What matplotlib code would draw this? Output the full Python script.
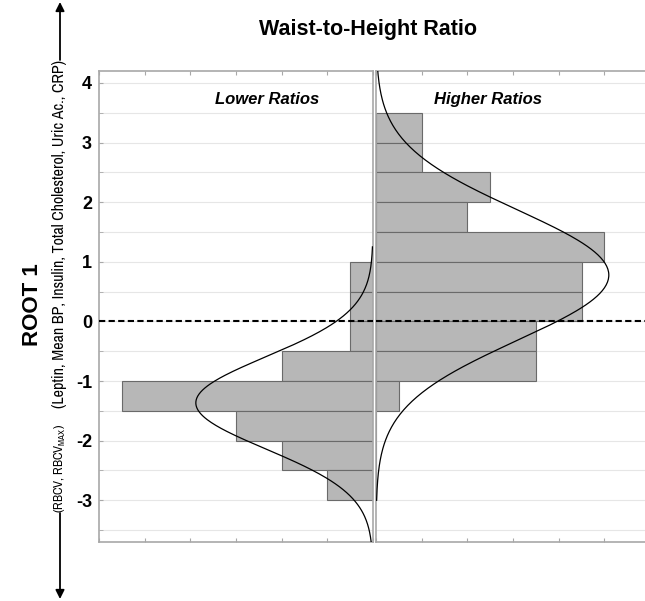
import numpy as np
import matplotlib
matplotlib.use('Agg')
import matplotlib.pyplot as plt
from matplotlib import font_manager
from matplotlib.patches import FancyArrowPatch

# histogram bins (ROOT 1 scores), lower edge of each 0.5-wide bin
bin_lo = [3.0, 2.5, 2.0, 1.5, 1.0, 0.5, 0.0, -0.5, -1.0, -1.5, -2.0, -2.5, -3.0]
lower_counts = [0, 0, 0, 0, 0, 1, 1, 1, 4, 11, 6, 4, 2]
higher_counts = [2, 2, 5, 4, 10, 9, 9, 7, 7, 1, 0, 0, 0]

title = 'Waist-to-Height Ratio'
panel_titles = ['Lower Ratios', 'Higher Ratios']
ylab_main = 'ROOT 1'
ylab_up = '(Leptin, Mean BP, Insulin, Total Cholesterol, Uric Ac., CRP)'
ylab_down = r'(RBCV, RBCV$_\mathregular{MAX}$)'

bin_w = 0.5
centers = np.array(bin_lo) + bin_w / 2
low = np.array(lower_counts)
high = np.array(higher_counts)

names = {f.name for f in font_manager.fontManager.ttflist}
narrow = next((f for f in ['Liberation Sans Narrow', 'Arial Narrow', 'Archivo Narrow',
                           'Roboto Condensed', 'Barlow Semi Condensed'] if f in names),
              'Liberation Sans')
plt.rcParams['font.family'] = ['Liberation Sans', 'DejaVu Sans']
plt.rcParams['axes.unicode_minus'] = False


def normal_fit(c, n):
    tot = n.sum()
    mu = (c * n).sum() / tot
    sd = np.sqrt((n * (c - mu) ** 2).sum() / tot)
    return mu, sd, tot


W, H = 645, 601
fig = plt.figure(figsize=(6.45, 6.01), dpi=100)
y0 = (H - 542) / H
hh = 471 / H
ax_l = fig.add_axes([99 / W, y0, 274 / W, hh])
ax_r = fig.add_axes([376 / W, y0, 274 / W, hh])

bar_col = '#b7b7b7'
edge_col = '#6a6a6a'
spine_col = '#a8a8a8'

ax_l.barh(centers, low, height=bin_w, color=bar_col, edgecolor=edge_col, lw=0.8, zorder=2)
ax_r.barh(centers, high, height=bin_w, color=bar_col, edgecolor=edge_col, lw=0.8, zorder=2)

# fitted normal curves
mu, sd, n = normal_fit(centers, low)
yy = np.linspace(-3.7, 1.25, 300)
ax_l.plot(n * bin_w * np.exp(-0.5 * ((yy - mu) / sd) ** 2) / (sd * np.sqrt(2 * np.pi)), yy,
          color='k', lw=0.9, zorder=3)
mu, sd, n = normal_fit(centers, high)
yy = np.linspace(-3.0, 4.2, 300)
ax_r.plot(n * bin_w * np.exp(-0.5 * ((yy - mu) / sd) ** 2) / (sd * np.sqrt(2 * np.pi)), yy,
          color='k', lw=0.9, zorder=3)

for ax in (ax_l, ax_r):
    ax.set_ylim(-3.7, 4.2)
    ax.set_yticks(np.arange(-3, 5, 1))
    ax.set_yticks(np.arange(-3.5, 4.5, 0.5), minor=True)
    ax.grid(True, axis='y', which='both', color='#e6e6e6', lw=0.8, zorder=0)
    ax.set_xticks(np.arange(0, 13, 2))
    ax.tick_params(axis='x', direction='in', top=True, bottom=True, length=3,
                   color=spine_col, labelbottom=False)
    ax.axhline(0, color='k', ls=(0, (3, 1.6)), lw=1.5, zorder=4)
    for s in ax.spines.values():
        s.set_color(spine_col)
        s.set_linewidth(1.2)

ax_l.set_xlim(12, 0)
ax_r.set_xlim(0, 12)
ax_l.tick_params(axis='y', which='both', direction='in', length=3, color=spine_col,
                 labelsize=13, pad=5)
for t in ax_l.get_yticklabels():
    t.set_fontweight('bold')
ax_r.tick_params(axis='y', which='both', left=False, labelleft=False)

ax_l.text(0.613, 0.94, panel_titles[0], transform=ax_l.transAxes, ha='center', va='center',
          fontsize=12, fontweight='bold', fontstyle='italic')
ax_r.text(0.409, 0.94, panel_titles[1], transform=ax_r.transAxes, ha='center', va='center',
          fontsize=12, fontweight='bold', fontstyle='italic')

fig.text(368 / W, 1 - 29 / H, title, ha='center', va='center', fontsize=15.5, fontweight='bold')
fig.text(32 / W, 1 - 305 / H, ylab_main, rotation=90, ha='center', va='center',
         fontsize=16, fontweight='bold')
t_up = fig.text(60 / W, 1 - 234 / H, ylab_up, rotation=90, ha='center', va='center',
                fontsize=11.5, family=[narrow, 'DejaVu Sans'])
t_dn = fig.text(60 / W, 1 - 513 / H, ylab_down, rotation=90, ha='center', va='bottom',
                fontsize=11.5, family=[narrow, 'DejaVu Sans'])

# size the side labels so the long one spans the same length as in the original
r = fig.canvas.get_renderer()
fs = min(12.5, t_up.get_fontsize() * 348 / t_up.get_window_extent(r).height)
t_up.set_fontsize(fs)
t_dn.set_fontsize(fs * 0.8)

arr = dict(arrowstyle='-|>', color='k', lw=1.3, mutation_scale=13, shrinkA=0, shrinkB=0)
fig.add_artist(FancyArrowPatch((60 / W, 1 - 60 / H), (60 / W, 1 - 2 / H),
                               transform=fig.transFigure, **arr))
fig.add_artist(FancyArrowPatch((60 / W, 1 - 513 / H), (60 / W, 1 - 599 / H),
                               transform=fig.transFigure, **arr))

fig.savefig('out.png', dpi=100)
